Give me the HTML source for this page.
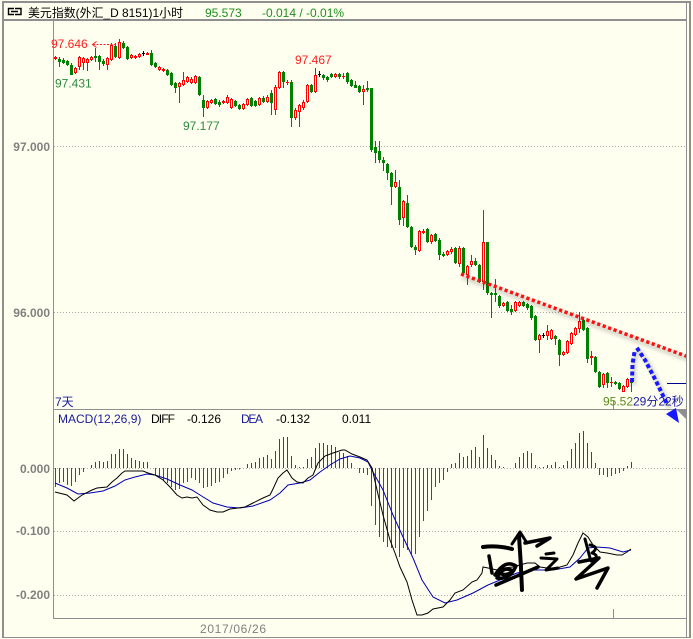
<!DOCTYPE html>
<html><head><meta charset="utf-8"><style>
html,body{margin:0;padding:0;background:#fffff0;}
svg{display:block;}
text{font-family:"Liberation Sans","Noto Sans CJK SC",sans-serif;}
</style></head><body>
<svg width="693" height="639" viewBox="0 0 693 639" xmlns="http://www.w3.org/2000/svg">
<defs>
<filter id="blur" x="-20%" y="-20%" width="140%" height="140%"><feGaussianBlur stdDeviation="1.5"/></filter>
<clipPath id="pc"><rect x="54" y="21" width="632" height="388"/></clipPath>
<clipPath id="mc"><rect x="54" y="410" width="632" height="208"/></clipPath>
</defs>
<rect width="693" height="639" fill="#fffff0"/>

<!-- frame -->
<g fill="#8f8f8f" shape-rendering="crispEdges">
<rect x="2" y="1" width="689" height="2"/>
<rect x="2" y="1" width="2" height="637"/>
<rect x="2" y="19" width="685" height="2"/>
<rect x="53" y="20" width="1" height="599"/>
<rect x="53" y="409" width="634" height="1"/>
<rect x="53" y="618" width="634" height="1"/>
<rect x="686" y="1" width="1" height="637"/>
<rect x="689" y="1" width="2" height="637"/>
<rect x="2" y="637" width="689" height="1"/>
<rect x="613" y="401" width="1" height="8"/>
<rect x="613" y="609" width="1" height="9"/>
</g>

<!-- title -->
<path d="M14 8.5H8.5V14.5H14M15 8.5H21V14.5H15M11 11.5H18" stroke="#000" stroke-width="1.4" fill="none"/>
<text x="28" y="17" font-size="12" fill="#000" textLength="155" lengthAdjust="spacingAndGlyphs">美元指数(外汇_D 8151)1小时</text>
<text x="205" y="17" font-size="12" fill="#1f8f1f">95.573</text>
<text x="262" y="17" font-size="12" fill="#1f8f1f">-0.014 / -0.01%</text>

<!-- grid -->
<g stroke="#a8a8a8" stroke-width="1" stroke-dasharray="1 2" shape-rendering="crispEdges">
<line x1="54" y1="146.5" x2="686" y2="146.5"/>
<line x1="54" y1="312.5" x2="686" y2="312.5"/>
<line x1="54" y1="468.5" x2="686" y2="468.5"/>
<line x1="54" y1="531.5" x2="686" y2="531.5"/>
<line x1="54" y1="595.5" x2="686" y2="595.5"/>
</g>

<!-- axis labels -->
<g font-size="12" font-weight="bold" fill="#808080" text-anchor="end">
<text x="50" y="151">97.000</text>
<text x="50" y="317">96.000</text>
<text x="50" y="473">0.000</text>
<text x="50" y="535">-0.100</text>
<text x="50" y="599">-0.200</text>
</g>
<text x="200" y="633" font-size="12" fill="#808080" textLength="66">2017/06/26</text>

<!-- candles -->
<g clip-path="url(#pc)" shape-rendering="crispEdges">
<path fill="none" stroke="#008000" d="M59.5 57V67M63.5 58V64M67.5 60V66M71.5 63V75M95.5 48V62M99.5 55V70M103.5 59V66M115.5 43V58M123.5 41V49M127.5 46V60M151.5 50V66M155.5 62V68M167.5 69V76M171.5 72V86M175.5 82V93M199.5 76V96M203.5 95V117M215.5 98V105M219.5 100V107M235.5 100V107M239.5 104V110M251.5 97V107M255.5 100V107M263.5 96V103M271.5 90V115M283.5 71V88M291.5 80V127M311.5 84V93M323.5 74V80M327.5 76V82M331.5 73V78M339.5 73V79M347.5 72V84M351.5 79V87M355.5 81V88M359.5 85V93M367.5 81V92M371.5 88V152M375.5 141V163M379.5 141V163M383.5 157V171M387.5 163V180M391.5 172V205M399.5 180V225M407.5 195V228M411.5 226V248M415.5 245V255M427.5 228V243M435.5 233V242M439.5 238V260M443.5 252V257M455.5 247V264M463.5 247V275M475.5 258V266M479.5 264V283M487.5 242V295M491.5 292V318M495.5 279V302M499.5 295V308M507.5 301V312M511.5 305V315M523.5 301V307M527.5 303V310M531.5 305V320M535.5 315V341M555.5 335V345M559.5 339V366M583.5 319V331M587.5 327V363M595.5 356V373M599.5 371V388M607.5 372V388M615.5 381V385M619.5 382V390M631.5 378V392"/>
<path fill="#008000" d="M58 59h3v3h-3zM62 60h3v3h-3zM66 61h3v4h-3zM70 65h3v10h-3zM94 56h3v2h-3zM98 56h3v6h-3zM102 61h3v3h-3zM114 46h3v11h-3zM122 43h3v5h-3zM126 47h3v12h-3zM150 53h3v12h-3zM154 63h3v4h-3zM166 70h3v5h-3zM170 73h3v12h-3zM174 83h3v5h-3zM198 77h3v18h-3zM202 100h3v8h-3zM214 99h3v5h-3zM218 102h3v3h-3zM234 101h3v5h-3zM238 105h3v4h-3zM250 98h3v8h-3zM254 101h3v5h-3zM262 98h3v4h-3zM270 93h3v10h-3zM282 72h3v10h-3zM290 82h3v36h-3zM310 85h3v7h-3zM322 75h3v3h-3zM326 77h3v3h-3zM330 74h3v3h-3zM338 74h3v3h-3zM346 73h3v9h-3zM350 80h3v6h-3zM354 85h3v3h-3zM358 86h3v6h-3zM366 88h3v2h-3zM370 88h3v62h-3zM374 147h3v6h-3zM378 151h3v9h-3zM382 160h3v3h-3zM386 164h3v9h-3zM390 173h3v14h-3zM398 187h3v33h-3zM406 203h3v24h-3zM410 227h3v20h-3zM414 247h3v3h-3zM426 229h3v13h-3zM434 234h3v7h-3zM438 240h3v15h-3zM442 254h3v2h-3zM454 248h3v15h-3zM462 248h3v25h-3zM474 261h3v4h-3zM478 265h3v17h-3zM486 242h3v51h-3zM490 293h3v2h-3zM494 293h3v2h-3zM498 296h3v10h-3zM506 302h3v9h-3zM510 309h3v3h-3zM522 302h3v4h-3zM526 304h3v4h-3zM530 306h3v12h-3zM534 316h3v24h-3zM554 336h3v3h-3zM558 340h3v15h-3zM582 320h3v10h-3zM586 328h3v31h-3zM594 357h3v15h-3zM598 372h3v15h-3zM606 373h3v10h-3zM614 382h3v2h-3zM618 383h3v6h-3zM630 380h3v3h-3z"/>
<path fill="none" stroke="#ff0000" d="M55.5 56V60M75.5 67V74M79.5 56V70M83.5 57V70M87.5 58V71M91.5 56V61M107.5 57V70M111.5 43V61M119.5 39V59M131.5 54V59M135.5 55V59M139.5 53V58M147.5 52V55M159.5 66V71M163.5 68V72M179.5 82V103M183.5 72V86M187.5 76V83M191.5 77V84M195.5 75V84M207.5 100V109M211.5 99V104M223.5 100V104M227.5 95V104M231.5 98V109M243.5 103V110M247.5 98V106M259.5 97V106M267.5 95V103M275.5 85V115M279.5 71V89M287.5 80V85M295.5 108V120M299.5 104V127M303.5 100V110M307.5 84V103M315.5 68V93M335.5 73V78M343.5 73V79M363.5 85V105M395.5 170V188M403.5 200V226M419.5 230V252M423.5 229V234M431.5 234V244M447.5 250V256M451.5 247V254M459.5 246V267M467.5 265V285M471.5 255V267M483.5 210V290M503.5 302V307M515.5 301V312M519.5 301V307M539.5 334V353M547.5 325V340M551.5 329V340M563.5 351V356M567.5 340V354M571.5 332V345M575.5 327V336M579.5 312V333M591.5 351V365M603.5 373V388M611.5 377V387M623.5 385V392M627.5 378V388"/>
<path fill="#fffff0" stroke="#ff0000" d="M74.5 68.5h2v4h-2zM78.5 57.5h2v9h-2zM82.5 58.5h2v4h-2zM86.5 59.5h2v3h-2zM90.5 57.5h2v2h-2zM106.5 58.5h2v6h-2zM110.5 45.5h2v14h-2zM118.5 42.5h2v15h-2zM130.5 55.5h2v2h-2zM138.5 54.5h2v2h-2zM158.5 67.5h2v2h-2zM178.5 83.5h2v3h-2zM182.5 80.5h2v4h-2zM186.5 77.5h2v4h-2zM190.5 79.5h2v3h-2zM194.5 76.5h2v6h-2zM206.5 101.5h2v6h-2zM210.5 100.5h2v2h-2zM226.5 97.5h2v5h-2zM230.5 99.5h2v8h-2zM242.5 104.5h2v4h-2zM246.5 99.5h2v5h-2zM258.5 98.5h2v6h-2zM266.5 97.5h2v4h-2zM274.5 87.5h2v22h-2zM278.5 72.5h2v15h-2zM294.5 110.5h2v7h-2zM298.5 105.5h2v6h-2zM302.5 102.5h2v5h-2zM306.5 85.5h2v16h-2zM314.5 75.5h2v16h-2zM334.5 74.5h2v2h-2zM362.5 89.5h2v2h-2zM394.5 182.5h2v4h-2zM402.5 201.5h2v16h-2zM418.5 231.5h2v19h-2zM430.5 235.5h2v6h-2zM446.5 251.5h2v3h-2zM450.5 249.5h2v2h-2zM458.5 248.5h2v15h-2zM466.5 266.5h2v8h-2zM470.5 261.5h2v3h-2zM482.5 242.5h2v39h-2zM502.5 303.5h2v2h-2zM514.5 302.5h2v8h-2zM518.5 302.5h2v3h-2zM538.5 335.5h2v4h-2zM546.5 331.5h2v4h-2zM550.5 330.5h2v8h-2zM562.5 352.5h2v2h-2zM566.5 341.5h2v11h-2zM570.5 333.5h2v10h-2zM574.5 328.5h2v6h-2zM578.5 321.5h2v7h-2zM602.5 374.5h2v10h-2zM622.5 386.5h2v5h-2zM626.5 379.5h2v7h-2z"/>
<path fill="#ff0000" d="M54 57h3v2h-3zM134 56h3v2h-3zM146 53h3v2h-3zM162 69h3v2h-3zM222 101h3v2h-3zM286 82h3v1h-3zM342 76h3v1h-3zM422 231h3v2h-3zM590 356h3v2h-3zM610 382h3v1h-3z"/>
<path fill="none" stroke="#000" d="M143.5 51V56M319.5 71V77M543.5 333V338"/>
<path fill="#000" d="M142 53h3v1h-3zM318 74h3v1h-3zM542 335h3v1h-3z"/>
</g>

<!-- high / low labels -->
<g font-size="12">
<text x="51" y="48" fill="#ff2020">97.646</text>
<text x="55" y="87.5" fill="#2b8a3e">97.431</text>
<text x="183" y="130" fill="#2b8a3e">97.177</text>
<text x="295" y="64" fill="#ff2020">97.467</text>
</g>
<path d="M96.5 41.5L92.5 44.5L96.5 47.5" stroke="#ff2020" fill="none"/>
<line x1="93" y1="44.5" x2="117" y2="44.5" stroke="#ff2020" stroke-dasharray="2 1.5"/>

<!-- red trend dotted line -->
<g clip-path="url(#pc)">
<line x1="462" y1="277" x2="690" y2="360" stroke="#000" stroke-opacity="0.14" stroke-width="5" filter="url(#blur)"/>
<line x1="461" y1="274" x2="690" y2="357.5" stroke="#ff1010" stroke-width="3.5" stroke-dasharray="3.2 2.6"/>
<line x1="667" y1="383.5" x2="686" y2="383.5" stroke="#000090" stroke-width="1"/>
</g>

<!-- bottom texts in price panel -->
<text x="55" y="406" font-size="12" fill="#1a1aa0">7天</text>
<text x="603" y="405.5" font-size="12" fill="#5c8a1c">95.52</text>
<text x="633" y="405.5" font-size="12" fill="#1a1aa0">29分22秒</text>

<!-- blue dotted arrow -->
<path d="M634 385L634 366L636 354L640 352L648 363L659 385L670 408" fill="none" stroke="#000" stroke-opacity="0.15" stroke-width="5" filter="url(#blur)"/>
<path d="M632 382L632.5 364L634.5 352L638 349.5L645 360L656 381L667 404" fill="none" stroke="#1818ff" stroke-width="4" stroke-dasharray="4 2.5"/>
<polygon points="677,410 686,410 686,419" fill="#8f8f8f"/>
<polygon points="666,414 676,408 679,423" fill="#1818ff"/>

<!-- MACD legend -->
<g font-size="12">
<text x="58" y="423" fill="#1a1a9a">MACD(12,26,9)</text>
<text x="151" y="423" fill="#000" textLength="24">DIFF</text>
<text x="187" y="423" fill="#000">-0.126</text>
<text x="241" y="423" fill="#1a1a9a" textLength="22">DEA</text>
<text x="276" y="423" fill="#000">-0.132</text>
<text x="342" y="423" fill="#000">0.011</text>
</g>

<!-- MACD histogram -->
<g clip-path="url(#mc)" shape-rendering="crispEdges">
<path fill="none" stroke="#008000" d="M55.5 468V487M59.5 468V483M63.5 468V482M67.5 468V485M71.5 468V486M75.5 468V482M79.5 468V475M83.5 468V472M155.5 468V475M159.5 468V477M163.5 468V480M167.5 468V483M171.5 468V487M175.5 468V490M179.5 468V489M183.5 468V483M187.5 468V482M191.5 468V478M195.5 468V480M199.5 468V483M203.5 468V488M207.5 468V487M211.5 468V486M215.5 468V483M219.5 468V482M223.5 468V478M227.5 468V474M231.5 468V471M235.5 468V470M239.5 468V469.5M359.5 468V473M363.5 468V473M367.5 468V475M371.5 468V506M375.5 468V525M379.5 468V537M383.5 468V542M387.5 468V547M391.5 468V548M395.5 468V548M399.5 468V557M403.5 468V548M407.5 468V550M411.5 468V555M415.5 468V554M419.5 468V537M423.5 468V521M427.5 468V511M431.5 468V500M435.5 468V487M439.5 468V483M443.5 468V480M447.5 468V472M599.5 468V475M603.5 468V475M607.5 468V477M611.5 468V476M615.5 468V474M619.5 468V473M623.5 468V471"/>
<path fill="none" stroke="#e80000" d="M91.5 468V465M95.5 468V462M99.5 468V461M103.5 468V462M107.5 468V461M111.5 468V454M115.5 468V454M119.5 468V449M123.5 468V449M127.5 468V454M131.5 468V458M135.5 468V460M139.5 468V461M143.5 468V462M147.5 468V462M247.5 468V464M251.5 468V463M255.5 468V462M259.5 468V458M263.5 468V457M267.5 468V455M271.5 468V459M275.5 468V451M279.5 468V439M283.5 468V437M287.5 468V437M291.5 468V456M295.5 468V465M299.5 468V467M303.5 468V467M307.5 468V459M311.5 468V457M315.5 468V448M319.5 468V443M323.5 468V443M327.5 468V445M331.5 468V445M335.5 468V447M339.5 468V452M343.5 468V453M347.5 468V456M351.5 468V463M451.5 468V464M455.5 468V463M459.5 468V453M463.5 468V457M467.5 468V456M471.5 468V450M475.5 468V447M479.5 468V457M483.5 468V435M487.5 468V448M491.5 468V455M495.5 468V460M499.5 468V466M503.5 468V467M515.5 468V463M519.5 468V457M523.5 468V453M527.5 468V451M531.5 468V453M535.5 468V465M539.5 468V467M543.5 468V467M547.5 468V465M551.5 468V465M555.5 468V462M559.5 468V467M563.5 468V465M567.5 468V461M571.5 468V449M575.5 468V443M579.5 468V433M583.5 468V431M587.5 468V443M591.5 468V452M595.5 468V463M627.5 468V466M631.5 468V462"/>
</g>

<!-- MACD lines -->
<g clip-path="url(#mc)" fill="none" stroke-width="1">
<polyline stroke="#0000b0" points="55,483 67,488 78,494 90,493 103,491 115,486 125,480 135,477 147,474 155,475 167,479 180,485 192,490 200,495 213,503 227,507 240,508 253,506 270,500 280,493 288,485 300,483 310,480 320,472 330,465 340,459 350,456 360,458 368,462 373,472 383,490 393,515 403,537 413,558 422,580 433,597 445,603 457,600 473,593 488,585 500,580 517,573 533,570 553,570 570,567 580,558 588,548 597,547 610,548 623,552 631,550"/>
<polyline stroke="#000" points="55,492 67,495 74,501 82,495 92,490 97,488 107,487 112,482 117,478 122,473 125,471 143,471 148,473 155,475 163,480 170,487 177,495 182,498 187,497 192,498 197,497 203,505 210,510 217,512 223,512 230,509 238,508 245,507 253,503 263,498 270,495 273,489 278,478 283,473 287,470 292,478 297,482 303,483 308,478 313,475 318,463 325,456 333,453 342,450 345,450 352,454 360,457 367,460 372,468 377,490 383,515 390,540 395,553 400,567 407,582 412,600 417,615 422,615 428,613 433,609 443,607 450,600 455,593 463,590 472,582 477,580 482,573 483,567 488,568 497,570 503,568 513,567 527,563 535,563 540,567 547,568 557,568 567,565 573,555 578,543 583,533 588,537 593,545 600,552 607,553 617,555 622,555 627,552 631,549"/>
</g>

<!-- signature -->
<g fill="none" stroke="#000" stroke-linecap="round" stroke-linejoin="round">
<path d="M483 547Q497 545 512 549" stroke-width="4"/>
<path d="M519 536Q521 563 522 590" stroke-width="4"/>
<path d="M512 544L520 532L527 543" stroke-width="3"/>
<path d="M525 543L550 538L537 546" stroke-width="3.5"/>
<path d="M489 556L492 573" stroke-width="3.5"/>
<path d="M495 575Q505 559 516 566Q510 580 497 578Q503 565 513 571Q506 577 500 573" stroke-width="3.5"/>
<path d="M496 585L538 567" stroke-width="3.5"/>
<path d="M546 554L554 553" stroke-width="3"/>
<path d="M541 558L557 559L546 570L558 568" stroke-width="3"/>
<path d="M585 539L590 558" stroke-width="3"/>
<path d="M590 545Q600 547 592 553Q601 556 591 561" stroke-width="3"/>
<path d="M579 562L599 558L576 579L608 568L597 588" stroke-width="3.5"/>
</g>
</svg>
</body></html>
